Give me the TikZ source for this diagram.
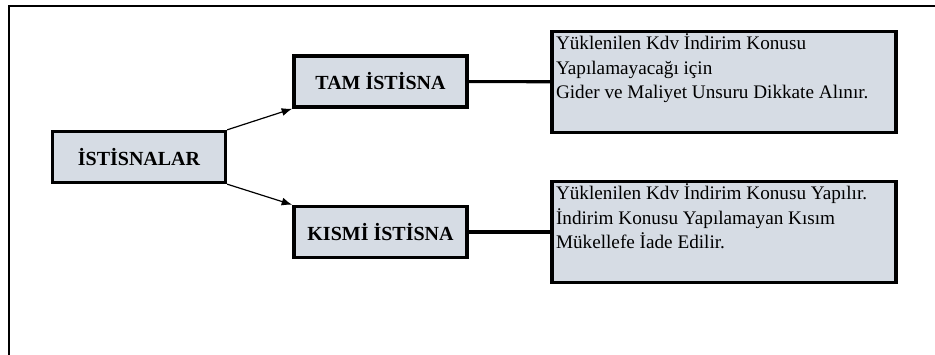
\documentclass[tikz,border=0pt]{standalone}
\usepackage{fontspec}
\setmainfont{Liberation Serif}
\usepackage{xcolor}
\definecolor{istisnaFill}{RGB}{214, 220, 228}
\definecolor{istisnaLine}{RGB}{0, 0, 0}
\usetikzlibrary{arrows.meta}

\tikzset{
  headbox/.style={draw=istisnaLine, fill=istisnaFill, line width=2.5pt, minimum width=129.75pt, minimum height=38.25pt, font=\fontsize{15}{18}\selectfont\bfseries},
  descbox/.style={draw=istisnaLine, fill=istisnaFill, line width=2.5pt, inner xsep=3pt, inner ysep=2pt, font=\fontsize{14.4}{18.4}\selectfont},
  istarrow/.style={-{Latex[length=8pt,width=6pt]}, line width=0.9pt, istisnaLine},
  istlink/.style={line width=2.3pt, istisnaLine}
}

\begin{document}
\begin{tikzpicture}[x=0.75pt, y=-0.75pt]
            \useasboundingbox (0,0) rectangle (935,354);
            % Frame
            \draw[line width=2pt] (9,356) -- (9,6) -- (937,6);

            % Main boxes
            \node[headbox] (istisna) at (139,157) {İSTİSNALAR};
            \node[headbox] (tam) at (380.5,81.5) {TAM İSTİSNA};
            \node[headbox] (kismi) at (380.5,232) {KISMİ İSTİSNA};

            % Description boxes
            \node[descbox] (tamdesc) at (724,82) {\parbox[c][72pt][t]{252pt}{Yüklenilen Kdv İndirim Konusu\\Yapılamayacağı için\\Gider ve Maliyet Unsuru Dikkate Alınır.}};
            \node[descbox] (kismidesc) at (724,232) {\parbox[c][72pt][t]{252pt}{Yüklenilen Kdv İndirim Konusu Yapılır.\\İndirim Konusu Yapılamayan Kısım\\Mükellefe İade Edilir.}};

            % Arrows
            \draw[istarrow] (istisna.north east) -- (tam.south west);
            \draw[istarrow] (istisna.south east) -- (kismi.north west);

            % Links
            \draw[istlink] (tam) -- (tamdesc);
            \draw[istlink] (kismi) -- (kismidesc);
        \end{tikzpicture}
\end{document}
